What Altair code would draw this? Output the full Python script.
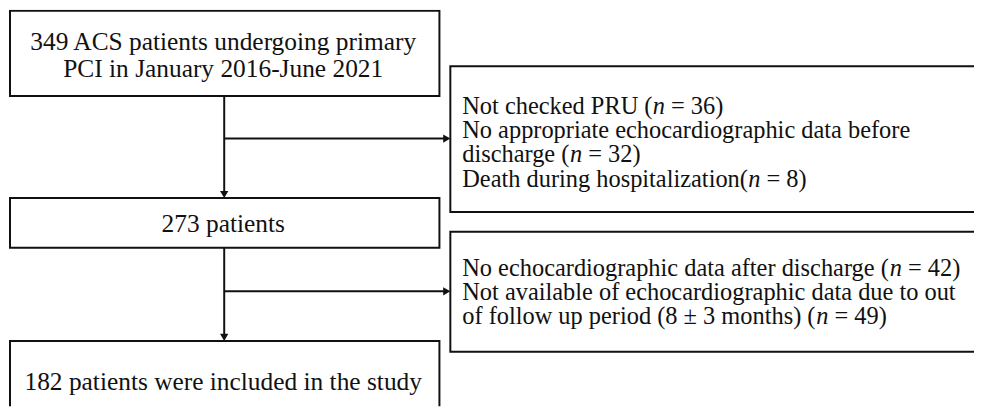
import altair as alt
import pandas as pd

# ---------------- content ----------------
main_lines = [
    ["349 ACS patients undergoing primary", "PCI in January 2016-June 2021"],
    ["273 patients"],
    ["182 patients were included in the study"],
]
excl_lines = [
    ["Not checked PRU (*n* = 36)",
     "No appropriate echocardiographic data before",
     "discharge (*n* = 32)",
     "Death during hospitalization(*n* = 8)"],
    ["No echocardiographic data after discharge (*n* = 42)",
     "Not available of echocardiographic data due to out",
     "of follow up period (8 ± 3 months) (*n* = 49)"],
]

# ---------------- layout (reference pixel coordinates) ----------------
W, H = 974, 400
X0, Y0 = 8, 8
main_boxes = [(10, 9, 443, 95), (10, 198, 443, 248), (10, 342, 443, 440)]
main_baselines = [[48.5, 76], [232.5], [391.5]]
excl_boxes = [(454, 65, 1010, 212), (454, 232, 1010, 353)]
excl_baselines = [[113, 137.5, 162, 186.5], [276.5, 300.5, 325]]
excl_left = 466
main_cx = 225
MAIN_FS, EXCL_FS = 25.6, 24.6
FONT = "Liberation Serif"

# Times/Liberation Serif advance widths (per 1000 em)
WID = {" ": 250, "(": 333, ")": 333, "±": 564, "=": 564, "-": 333,
       "N": 722, "P": 556, "R": 667, "U": 722, "D": 722,
       "a": 444, "b": 500, "c": 444, "d": 500, "e": 444, "f": 333, "g": 500,
       "h": 500, "i": 278, "k": 500, "l": 278, "m": 778, "n": 500, "o": 500,
       "p": 500, "r": 333, "s": 389, "t": 278, "u": 500, "w": 722, "y": 500,
       "z": 444}


def text_w(s, fs):
    return sum(WID.get(c, 500) for c in s) * fs / 1000.0


# ---------------- tables ----------------
boxes = pd.DataFrame(
    [dict(x=b[0], y=b[1], x2=b[2], y2=b[3]) for b in main_boxes + excl_boxes]
)

center_rows = []
for lines, bls in zip(main_lines, main_baselines):
    for t, yb in zip(lines, bls):
        center_rows.append(dict(x=main_cx, y=yb, text=t))
center_df = pd.DataFrame(center_rows)

reg_rows, ital_rows = [], []
for lines, bls in zip(excl_lines, excl_baselines):
    for t, yb in zip(lines, bls):
        x = excl_left
        for k, part in enumerate(t.split("*")):
            if not part:
                continue
            lead = len(part) - len(part.lstrip(" "))
            x += text_w(" " * lead, EXCL_FS)
            core = part.lstrip(" ")
            (ital_rows if k % 2 else reg_rows).append(dict(x=x, y=yb, text=core))
            x += text_w(core, EXCL_FS)
reg_df = pd.DataFrame(reg_rows)
ital_df = pd.DataFrame(ital_rows)

rules = pd.DataFrame([
    dict(x=226, y=95, x2=226, y2=194),
    dict(x=226, y=138, x2=449, y2=138),
    dict(x=226, y=248, x2=226, y2=338),
    dict(x=226, y=292, x2=449, y2=292),
])
heads_down = pd.DataFrame([dict(x=226, y=198), dict(x=226, y=342)])
heads_right = pd.DataFrame([dict(x=454, y=138), dict(x=454, y=292)])

xs = alt.Scale(domain=[X0, X0 + W], nice=False, zero=False)
ys = alt.Scale(domain=[Y0, Y0 + H], nice=False, zero=False, reverse=True)


def X(f="x"):
    return alt.X(f"{f}:Q", scale=xs, axis=None)


def Y(f="y"):
    return alt.Y(f"{f}:Q", scale=ys, axis=None)


INK = "#111111"

rect = alt.Chart(boxes).mark_rect(
    fill="white", stroke=INK, strokeWidth=2, clip=True
).encode(x=X(), x2="x2:Q", y=Y(), y2="y2:Q")

rule = alt.Chart(rules).mark_rule(color=INK, strokeWidth=2).encode(
    x=X(), x2="x2:Q", y=Y(), y2="y2:Q"
)

down = alt.Chart(heads_down).mark_point(
    shape="triangle-down", filled=True, color=INK, size=70, opacity=1,
    yOffset=-3.6
).encode(x=X(), y=Y())

right = alt.Chart(heads_right).mark_point(
    shape="triangle-right", filled=True, color=INK, size=70, opacity=1,
    xOffset=-3.6
).encode(x=X(), y=Y())

ctext = alt.Chart(center_df).mark_text(
    font=FONT, fontSize=MAIN_FS, align="center", baseline="alphabetic", color=INK
).encode(x=X(), y=Y(), text="text:N")

rtext = alt.Chart(reg_df).mark_text(
    font=FONT, fontSize=EXCL_FS, align="left", baseline="alphabetic", color=INK
).encode(x=X(), y=Y(), text="text:N")

itext = alt.Chart(ital_df).mark_text(
    font=FONT, fontSize=EXCL_FS, fontStyle="italic", align="left",
    baseline="alphabetic", color=INK
).encode(x=X(), y=Y(), text="text:N")

chart = alt.layer(rect, rule, down, right, ctext, rtext, itext).properties(
    width=W, height=H, padding=0, background="white",
    autosize=alt.AutoSizeParams(type="none")
).configure_view(stroke=None)

chart.save("out.html", embed_options={"renderer": "svg", "actions": False})
